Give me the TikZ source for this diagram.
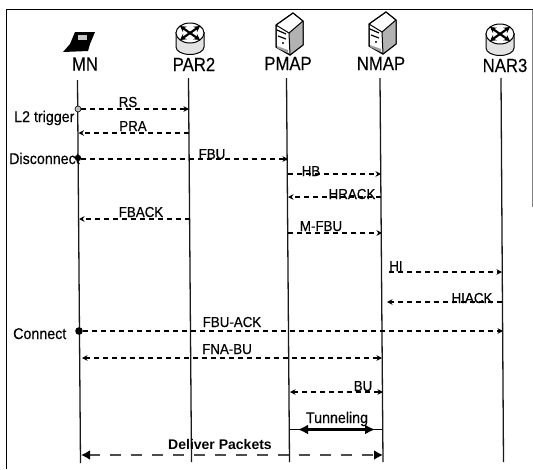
\documentclass[tikz,border=0pt]{standalone}
\usepackage{fontspec}
\setmainfont{Liberation Sans}
\newfontfamily\hdrfont[FakeBold=0.25,FakeStretch=0.88]{Liberation Sans}
\newfontfamily\lblfont[FakeBold=0.35,FakeStretch=0.92]{Liberation Sans}
\usetikzlibrary{arrows.meta}
\tikzset{
  lifeline/.style={line width=1.3pt,black!90},
  msg/.style={line width=1.3pt,dash pattern=on 5pt off 4pt,-{Stealth[length=5.5pt,width=5.5pt]}},
  dmsg/.style={line width=1.3pt,dash pattern=on 5pt off 4pt,{Stealth[length=5.5pt,width=5.5pt]}-{Stealth[length=5.5pt,width=5.5pt]}},
  hdr/.style={font=\hdrfont\fontsize{19}{19}\selectfont,anchor=base,inner sep=0pt},
  lbl/.style={font=\lblfont\fontsize{14.5}{15}\selectfont,anchor=base,inner sep=0pt},
  event/.style={font=\lblfont\fontsize{15.5}{16}\selectfont,anchor=base west,inner sep=0pt},
  routericon/.pic={
    \draw [fill=gray!22,line width=1pt] (-14,7) -- (-14,-8) arc [start angle=180,end angle=360,x radius=14,y radius=7.5] -- (14,7);
    \draw [fill=white,line width=1pt] (0,6) ellipse [x radius=14,y radius=10];
    \draw [line width=2.2pt,{Stealth[length=6pt,width=6.5pt]}-{Stealth[length=6pt,width=6.5pt]}] (-10,-1) -- (10,13);
    \draw [line width=2.2pt,{Stealth[length=6pt,width=6.5pt]}-{Stealth[length=6pt,width=6.5pt]}] (-10,13) -- (10,-1);
  },
  servericon/.pic={
    \draw [fill=white,line width=1pt] (0,0) -- (-17,-12) -- (-17,-34) -- (-3,-42) -- (10,-32) -- (10,-8) -- cycle;
    \fill [gray!60] (-4,-20) -- (10,-8) -- (10,-32) -- (-3,-42) -- cycle;
    \draw [line width=1pt] (-17,-12) -- (-4,-20) -- (10,-8);
    \draw [line width=1pt] (-4,-20) -- (-3,-42);
    \draw [line width=1pt] (0,0) -- (-17,-12) -- (-17,-34) -- (-3,-42) -- (10,-32) -- (10,-8) -- cycle;
    \draw [line width=1.2pt] (-16,-17) -- (-7,-21);
    \draw [line width=1.2pt] (-15,-23) -- (-7,-26);
    \fill (-10,-30) circle [radius=1.2pt];
    \fill [gray!75] (-16,-33) -- (-5,-37) -- (-5,-40) -- (-16,-35) -- cycle;
  }
}
\begin{document}
\begin{tikzpicture}[>=Stealth,x=1pt,y=1pt]
\useasboundingbox (0,0) rectangle (533,-469);
% frame
\draw [line width=1.2pt] (6.5,-469) -- (6.5,-9.5) -- (533,-9.5);
\draw [line width=0.5pt,gray] (532,-10) -- (532,-207);
% icons
\fill (75,-32) -- (95,-32) -- (90,-44) -- (88,-51) -- (63,-52) -- (70,-44) -- cycle;
\fill [gray!45] (78,-35) rectangle (87,-40);
\pic at (190,-39) {routericon};
\pic at (500,-40) {routericon};
\pic at (293,-13) {servericon};
\pic at (386,-12) {servericon};
% headers
\node [hdr] (mn) at (85,-70.5) {MN};
\node [hdr] (par2) at (194,-71) {PAR2};
\node [hdr] (pmap) at (288,-70) {PMAP};
\node [hdr] (nmap) at (381,-70) {NMAP};
\node [hdr] (nar3) at (505,-72) {NAR3};
% lifeline ends
\coordinate (mnt) at (77.5,-80);
\coordinate (mnb) at (80.5,-463);
\coordinate (part) at (188.5,-78);
\coordinate (parb) at (191.5,-462);
\coordinate (pmapt) at (286.5,-78);
\coordinate (pmapb) at (289.5,-462);
\coordinate (nmapt) at (380,-78);
\coordinate (nmapb) at (383,-462);
\coordinate (nart) at (501,-78);
\coordinate (narb) at (503.5,-462);
\draw [lifeline] (mnt) -- (mnb);
\draw [lifeline] (part) -- (parb);
\draw [lifeline] (pmapt) -- (pmapb);
\draw [lifeline] (nmapt) -- (nmapb);
\draw [lifeline] (nart) -- (narb);
% message ends
\coordinate (rsa) at (81,-109);
\coordinate (rsb) at (189,-109);
\coordinate (praa) at (78.5,-133);
\coordinate (prab) at (189,-133);
\coordinate (fbua) at (81,-159);
\coordinate (fbub) at (288,-159);
\coordinate (hba) at (288,-174);
\coordinate (hbb) at (381,-174);
\coordinate (hracka) at (381,-197);
\coordinate (hrackb) at (288,-197);
\coordinate (fbacka) at (189.5,-219);
\coordinate (fbackb) at (79,-219);
\coordinate (mfbua) at (288,-233);
\coordinate (mfbub) at (382,-233);
\coordinate (hia) at (389,-272);
\coordinate (hib) at (502,-272);
\coordinate (hiacka) at (502,-302);
\coordinate (hiackb) at (387,-302);
\coordinate (acka) at (83,-331);
\coordinate (ackb) at (503,-331);
\coordinate (fnaa) at (82,-358);
\coordinate (fnab) at (382,-358);
\coordinate (bua) at (290,-392);
\coordinate (bub) at (383,-392);
\coordinate (tuna) at (290,-429.5);
\coordinate (tunb) at (382,-429.5);
\coordinate (tunc) at (298,-429.5);
\coordinate (tund) at (375,-429.5);
\coordinate (dela) at (81,-455);
\coordinate (delb) at (383,-455);
% messages
\draw [msg] (rsa) -- (rsb);
\draw [msg] (prab) -- (praa);
\draw [msg] (fbua) -- (fbub);
\draw [msg] (hba) -- (hbb);
\draw [msg] (hracka) -- (hrackb);
\draw [msg] (fbacka) -- (fbackb);
\draw [msg] (mfbua) -- (mfbub);
\draw [msg] (hia) -- (hib);
\draw [msg] (hiacka) -- (hiackb);
\draw [msg] (acka) -- (ackb);
\draw [dmsg] (fnaa) -- (fnab);
\draw [dmsg] (bua) -- (bub);
\draw [line width=1pt] (tuna) -- (tunb);
\draw [line width=3pt,{Latex[length=10pt,width=10pt]}-{Latex[length=10pt,width=10pt]}] (tunc) -- (tund);
\draw [line width=2.6pt,black!70,dash pattern=on 11pt off 10pt,{Latex[length=9pt,width=10pt,black]}-{Latex[length=9pt,width=10pt,black]}] (dela) -- (delb);
% events on MN
\fill [gray!50] (78,-109) circle [radius=3pt];
\draw [line width=0.6pt] (78,-109) circle [radius=3pt];
\fill (78,-158) circle [radius=3.2pt];
\fill (79,-331) circle [radius=3.8pt];
% labels
\node [event] (l2) at (14,-122) {L2 trigger};
\node [event] (disc) at (9,-164) {Disconnect};
\node [event] (conn) at (13,-339) {Connect};
\node [lbl] (rs) at (128,-107) {RS};
\node [lbl] (pra) at (133,-131) {PRA};
\node [lbl] (fbu) at (212,-159) {FBU};
\node [lbl] (hb) at (311,-176) {HB};
\node [lbl] (hrack) at (352,-199) {HRACK};
\node [lbl] (fback) at (141,-217) {FBACK};
\node [lbl] (mfbu) at (321,-231) {M-FBU};
\node [lbl] (hi) at (396,-271) {HI};
\node [lbl] (hiack) at (472,-303) {HIACK};
\node [lbl] (fbuack) at (232,-327) {FBU-ACK};
\node [lbl] (fnabu) at (227,-354) {FNA-BU};
\node [lbl] (bu) at (363,-391) {BU};
\node [lbl,font=\lblfont\fontsize{15.5}{16}\selectfont] (tun) at (337,-423) {Tunneling};
\node [lbl,font=\fontsize{14}{15}\selectfont\bfseries] (del) at (220,-449) {Deliver Packets};
\end{tikzpicture}
\end{document}
